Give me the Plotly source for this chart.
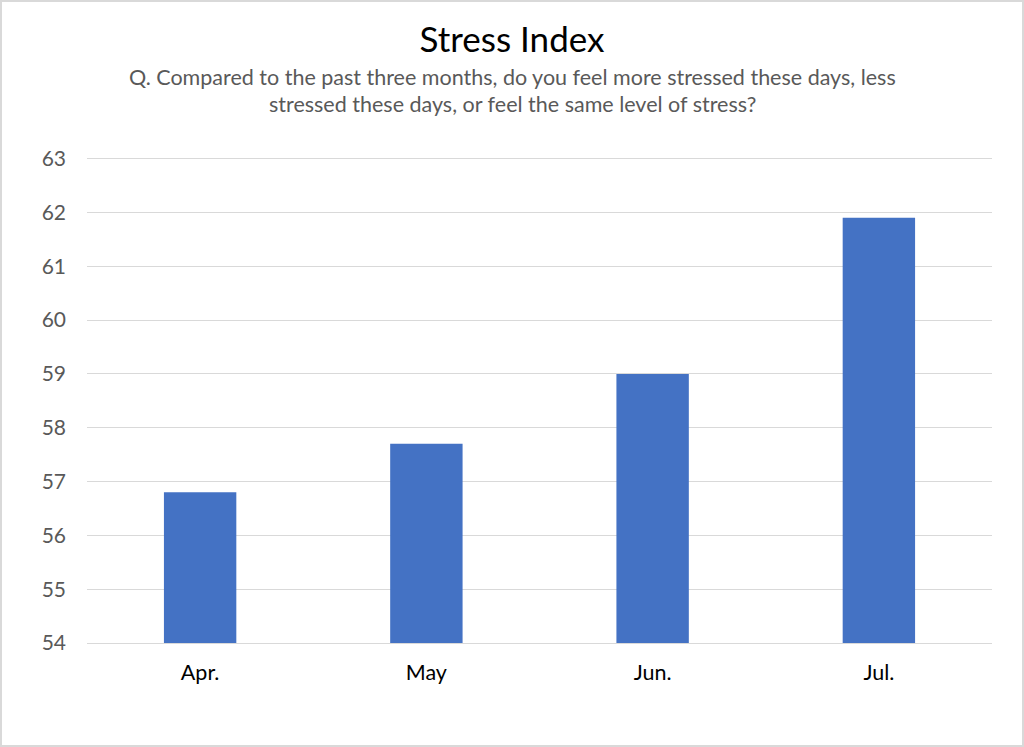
import plotly.graph_objects as go

months = ["Apr.", "May", "Jun.", "Jul."]
stress_index = [56.8, 57.7, 59.0, 61.9]
y_ticks = [54, 55, 56, 57, 58, 59, 60, 61, 62, 63]

title_text = "Stress Index"
subtitle_lines = [
    "Q. Compared to the past three months, do you feel more stressed these days, less",
    "stressed these days, or feel the same level of stress?",
]

W, H = 1024, 747
M_L, M_R, M_T, M_B = 87, 32, 157, 104
plot_w = W - M_L - M_R
plot_h = H - M_T - M_B


def paper_y(px):
    """Convert a pixel row from the top of the page into paper y."""
    return (H - M_B - px) / plot_h


# page centre expressed in paper x (the heading is centred on the page, not the plot)
page_mid = (W / 2 - M_L) / plot_w

fig = go.Figure()
fig.add_trace(go.Bar(
    x=months,
    y=stress_index,
    marker=dict(color="#4472C4", line=dict(width=0)),
    hoverinfo="x+y",
))

fig.update_layout(
    width=W,
    height=H,
    margin=dict(l=M_L, r=M_R, t=M_T, b=M_B),
    plot_bgcolor="white",
    paper_bgcolor="white",
    font=dict(family="Lato, Open Sans, sans-serif", color="#595959"),
    bargap=0.68,
    showlegend=False,
    title=dict(
        text=title_text,
        x=0.5,
        xanchor="center",
        xref="container",
        yref="container",
        y=1 - 40 / H,
        yanchor="middle",
        font=dict(size=35, color="black"),
    ),
)

# subtitle, one annotation per line to keep the spacing
for line, py in zip(subtitle_lines, [77, 104]):
    fig.add_annotation(
        text=line,
        xref="paper", yref="paper",
        x=page_mid, y=paper_y(py),
        xanchor="center", yanchor="middle",
        showarrow=False,
        font=dict(size=21.5, color="#595959"),
    )

fig.update_yaxes(
    range=[54, 63.03],
    tickvals=y_ticks,
    showgrid=True,
    gridcolor="#D9D9D9",
    gridwidth=1,
    zeroline=False,
    showline=False,
    ticks="",
    ticklabelstandoff=20,
    tickfont=dict(size=21, color="#595959"),
)
fig.update_xaxes(
    showgrid=False,
    showline=True,
    linecolor="#D9D9D9",
    ticks="",
    ticklabelstandoff=10,
    tickfont=dict(size=21.5, color="black"),
)

# light border around the whole chart
fig.add_shape(
    type="rect", xref="paper", yref="paper",
    x0=-(M_L - 1) / plot_w, x1=1 + (M_R - 1) / plot_w,
    y0=-(M_B - 1) / plot_h, y1=1 + (M_T - 1) / plot_h,
    line=dict(color="#D9D9D9", width=2),
    layer="below",
)

fig.write_html("out.html", config={"displayModeBar": False})

# the page is shown at exactly the figure size, so drop the default body margin
with open("out.html", encoding="utf-8") as f:
    page = f.read()
page = page.replace("<head>", "<head><style>body{margin:0;overflow:hidden}</style>", 1)
with open("out.html", "w", encoding="utf-8") as f:
    f.write(page)
